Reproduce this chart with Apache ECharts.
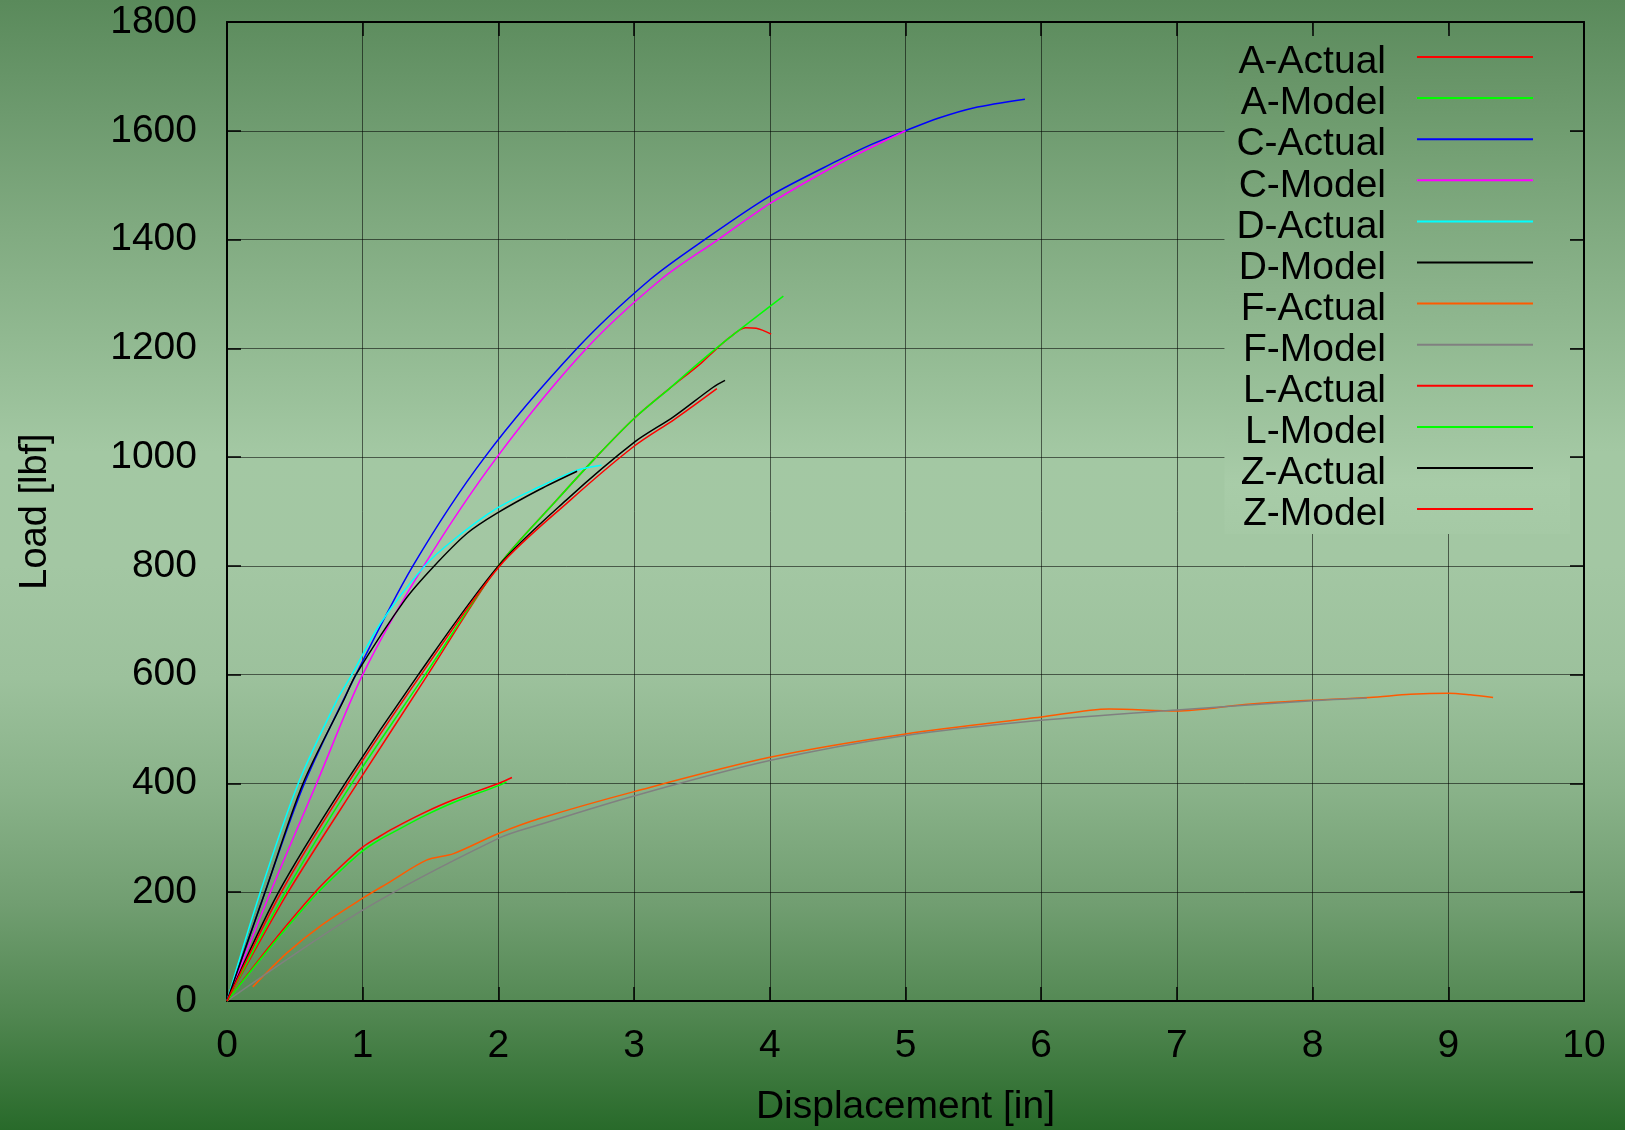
<!DOCTYPE html>
<html>
<head>
<meta charset="utf-8">
<script src="https://cdn.jsdelivr.net/npm/echarts@6/dist/echarts.min.js"></script>
<style>
html, body { margin: 0; padding: 0; }
#main { width: 1625px; height: 1130px; }
</style>
</head>
<body>
<div id="main"></div>
<script>
// Load / displacement curves, [displacement (in), load (lbf)]
var aActual = [[0,0],[0.45,200],[0.96,400],[1.48,600],[2.0,800],[2.43,921],[2.72,1000],[3.0,1071],[3.26,1126],[3.49,1172],[3.61,1200],[3.71,1221],[3.82,1238],[3.9,1237],[4.01,1226]];
var aModel  = [[0,0],[0.43,200],[0.92,400],[1.46,600],[2.0,800],[2.43,921],[2.72,1000],[3.0,1071],[3.26,1126],[3.49,1176],[3.71,1221],[4.1,1296]];
var cActual = [[0,0],[0.28,200],[0.57,400],[0.95,600],[1.37,800],[1.9,1000],[2.58,1200],[3.12,1327],[3.52,1400],[4.0,1480],[4.5,1545],[4.75,1575],[5.0,1600],[5.24,1623],[5.5,1642],[5.88,1658]];
var cModel  = [[0,0],[0.32,200],[0.66,400],[1.0,600],[1.45,800],[1.99,1000],[2.65,1200],[3.2,1327],[3.62,1400],[4.0,1466],[4.5,1538],[5.0,1600]];
var dActual = [[0,0],[0.245,200],[0.525,400],[0.81,553],[0.92,600],[1.13,694],[1.45,798],[1.67,848],[1.99,906],[2.3,945],[2.58,976],[2.76,985]];
var dModel  = [[0,0],[0.28,200],[0.56,400],[0.86,553],[0.95,600],[1.31,737],[1.52,798],[1.77,860],[1.99,897],[2.3,940],[2.58,974]];
var fActual = [[0.19,26],[0.44,88],[0.7,140],[1.0,189],[1.18,216],[1.47,259],[1.67,271],[2.0,308],[2.31,336],[3.0,385],[4.0,448],[5.0,491],[6.0,522],[6.5,537],[7.0,533],[7.5,545],[7.91,552],[8.42,558],[8.72,564],[9.0,566],[9.16,563],[9.33,558]];
var fModel  = [[0,0],[1.0,167],[2.0,299],[2.3,324],[3.0,377],[4.0,442],[5.0,488],[6.0,516],[7.0,535],[8.0,552],[8.4,557]];
var lActual = [[0,0],[0.33,106],[0.66,203],[0.85,250],[1.0,283],[1.12,302],[1.23,318],[1.45,346],[1.67,370],[2.0,400],[2.1,411]];
var lModel  = [[0,0],[0.33,102],[0.66,197],[0.85,243],[1.0,276],[1.12,296],[1.23,311],[1.45,340],[1.67,365],[2.0,396],[2.06,403]];
var zActual = [[0,0],[0.38,200],[0.87,400],[1.41,600],[2.0,800],[2.5,921],[3.0,1027],[3.29,1074],[3.58,1128],[3.67,1141]];
var zModel  = [[0,0],[0.4,200],[0.89,400],[1.43,600],[2.01,800],[2.53,921],[3.0,1020],[3.3,1070],[3.61,1126]];

var seriesNames = ['A-Actual','A-Model','C-Actual','C-Model','D-Actual','D-Model',
                   'F-Actual','F-Model','L-Actual','L-Model','Z-Actual','Z-Model'];
var seriesData  = [aActual, aModel, cActual, cModel, dActual, dModel,
                   fActual, fModel, lActual, lModel, zActual, zModel];
var seriesColors = ['#ff0000','#00ff00','#0000ff','#ff00ff','#00ffff','#000000',
                    '#ff5a00','#808080','#ff0000','#00ff00','#000000','#ff0000'];

var FONT = 'Liberation Sans';

// Background gradient (top to bottom)
var bgStops = [
    [0.00, [90, 138, 91]],
    [0.20, [128, 170, 128]],
    [0.43, [168, 204, 168]],
    [0.60, [156, 193, 156]],
    [0.75, [128, 170, 128]],
    [0.88, [88, 140, 88]],
    [1.00, [40, 106, 42]]
];

function colorAt(t){
    for (var i = 1; i < bgStops.length; i++){
        if (t <= bgStops[i][0]){
            var a = bgStops[i-1], b = bgStops[i];
            var f = (t - a[0]) / (b[0] - a[0]);
            var c = [0,1,2].map(function(k){ return Math.round(a[1][k] + (b[1][k]-a[1][k])*f); });
            return 'rgb(' + c.join(',') + ')';
        }
    }
    var l = bgStops[bgStops.length-1][1];
    return 'rgb(' + l.join(',') + ')';
}

function gradient(t0, t1){
    var stops = [];
    for (var i = 0; i <= 10; i++){
        stops.push({offset: i/10, color: colorAt(t0 + (t1-t0)*i/10)});
    }
    return {type: 'linear', x: 0, y: 0, x2: 0, y2: 1, colorStops: stops};
}

function buildSeries(){
    var out = [];
    for (var i = 0; i < seriesNames.length; i++){
        out.push({
            name: seriesNames[i],
            type: 'line',
            data: seriesData[i],
            symbol: 'none',
            showSymbol: false,
            smooth: 0.3,
            color: seriesColors[i],
            lineStyle: {color: seriesColors[i], width: 1.5},
            emphasis: {disabled: true}
        });
    }
    return out;
}

function plain(v){ return String(v); }

var axisLineStyle = {show: true, onZero: false, lineStyle: {color: '#000', width: 2}};
var tickStyle = {show: true, inside: true, length: 14, lineStyle: {color: '#000', width: 1.5}};
var gridLineStyle = {show: true, lineStyle: {color: 'rgba(0,0,0,0.55)', width: 1}};
var labelStyle = {fontSize: 39, color: '#000', fontFamily: FONT, formatter: plain};

// Legend box spans y 30..535, grid lines are hidden behind it
var legendTop = 30, legendBottom = 535;

var option = {
    animation: false,
    backgroundColor: gradient(0, 1),
    grid: {left: 227, top: 22, right: 41, bottom: 129, outerBoundsMode: 'none'},
    legend: {
        data: seriesNames,
        orient: 'vertical',
        align: 'right',
        right: 55,
        top: legendTop,
        padding: [2, 36, 0, 12],
        itemWidth: 116,
        itemHeight: 20,
        itemGap: -8.9,
        backgroundColor: gradient(legendTop/1130, legendBottom/1130),
        itemStyle: {opacity: 0},
        formatter: '{t|{name}}',
        textStyle: {
            color: '#000',
            rich: {t: {fontSize: 39, color: '#000', fontFamily: FONT, lineHeight: 39, padding: [11, 26, 0, 0]}}
        },
        selectedMode: false
    },
    xAxis: [
        {
            type: 'value', min: 0, max: 10, interval: 1, position: 'bottom',
            axisLine: axisLineStyle, axisTick: tickStyle, splitLine: gridLineStyle,
            axisLabel: Object.assign({margin: 26}, labelStyle),
            name: 'Displacement [in]', nameLocation: 'middle', nameGap: 87,
            nameTextStyle: {fontSize: 39, color: '#000', fontFamily: FONT}
        },
        {
            type: 'value', min: 0, max: 10, interval: 1, position: 'top', z: 10,
            axisLine: axisLineStyle, axisTick: tickStyle,
            splitLine: {show: false}, axisLabel: {show: false}
        }
    ],
    yAxis: [
        {
            type: 'value', min: 0, max: 1800, interval: 200, position: 'left',
            axisLine: axisLineStyle, axisTick: tickStyle, splitLine: gridLineStyle,
            axisLabel: Object.assign({margin: 30}, labelStyle),
            name: 'Load [lbf]', nameLocation: 'middle', nameGap: 172,
            nameTextStyle: {fontSize: 38, color: '#000', fontFamily: FONT}
        },
        {
            type: 'value', min: 0, max: 1800, interval: 200, position: 'right', z: 10,
            axisLine: axisLineStyle, axisTick: tickStyle,
            splitLine: {show: false}, axisLabel: {show: false}
        }
    ],
    series: buildSeries()
};

var chart = echarts.init(document.getElementById('main'));
chart.setOption(option);
</script>
</body>
</html>
